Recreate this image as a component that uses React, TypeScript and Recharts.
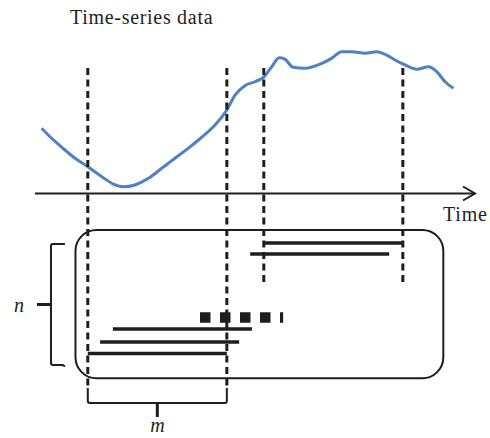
import {
  ComposedChart,
  Line,
  ReferenceArea,
  ReferenceLine,
  XAxis,
  YAxis,
} from "recharts";

// time-series curve (time units, value units)
const seriesTime = [
  1.5, 3.0, 6.1, 9.1, 12.0, 15.2, 17.8, 20.1, 22.7, 25.8, 28.8, 31.8, 34.8,
  37.9, 40.9, 43.6, 45.5, 47.7, 50.0, 52.1, 53.8, 55.5, 56.7, 58.7, 61.4,
  65.2, 67.4, 69.7, 72.0, 75.0, 77.7, 79.9, 81.8, 84.1, 86.8, 89.4, 91.3,
  93.2, 95.1,
];
const seriesValue = [
  43.5, 39, 30.8, 23.5, 17.9, 11.2, 6.3, 4.5, 5.7, 10.1, 16.8, 23.5, 30.1,
  37.5, 45.7, 55.7, 65.7, 71.9, 74.5, 77.9, 84.5, 90.5, 89.7, 84.1, 83.5,
  86.8, 90.1, 94.5, 94.5, 93.5, 94.5, 92.3, 89, 85.7, 82.8, 84.5, 81.2, 74.5,
  70.1,
];

// sliding windows of length m
const windowLength = 31.6;
const windowStarts = [12, 52];
const windowTop = 83.7;
const windowBottoms = [-129.7, -60.3];

// subsequence rows (start time, row level)
const rowStarts = [12, 14.8, 17.7, 48.9, 52];
const rowLevels = [-106.7, -99, -90.3, -40.3, -33];
const ellipsis = { from: 37.5, to: 56.4, level: -82.7 };

// matrix box and braces
const box = { x1: 9.2, x2: 92.8, y1: -24.3, y2: -123.2 };
const nBrace = { x1: 0.45, x2: 6.8, y1: -33.7, y2: -114.3 };
const mBrace = { y1: -129.7, y2: -149 };

const series = seriesTime.map((t, i) => ({ t, v: seriesValue[i] }));

const INK = "#1e1e1e";
const SERIF = "Liberation Serif, DejaVu Serif, Noto Serif, Times, serif";

function AxisArrow(props: any) {
  const { x1, y1, x2 } = props;
  return (
    <g>
      <line x1={x1} y1={y1} x2={x2} y2={y1} stroke={INK} strokeWidth={2} />
      <polyline
        points={`${x2 - 12},${y1 - 7} ${x2},${y1} ${x2 - 12},${y1 + 7}`}
        fill="none"
        stroke={INK}
        strokeWidth={2}
      />
      <text x={x2 - 32} y={y1 + 27} fontFamily={SERIF} fontSize={20} letterSpacing={0.8} fill={INK}>
        Time
      </text>
    </g>
  );
}

function BoxShape(props: any) {
  const { x, y, width, height } = props;
  return (
    <rect
      x={x}
      y={y}
      width={width}
      height={height}
      rx={21}
      fill="none"
      stroke={INK}
      strokeWidth={2}
    />
  );
}

function LeftBrace(props: any) {
  const { x, y, width, height } = props;
  const bx = x + 14;
  const mid = y + height / 2;
  return (
    <g fill="none" stroke={INK} strokeWidth={2}>
      <path d={`M${x + width},${y} H${bx + 2} Q${bx},${y} ${bx},${y + 2} V${y + height - 2} Q${bx},${y + height} ${bx + 2},${y + height} H${x + width - 2} L${x + width},${y + height + 1.5}`} />
      <path d={`M${x},${mid} H${bx}`} strokeWidth={3} />
      <text x={x - 23} y={mid + 7} fontFamily={SERIF} fontStyle="italic" fontSize={20} fill={INK} stroke="none">
        n
      </text>
    </g>
  );
}

function BottomBrace(props: any) {
  const { x, y, width, height } = props;
  const hy = y + 15;
  const cx = x + width / 2;
  return (
    <g fill="none" stroke={INK} strokeWidth={2}>
      <path d={`M${x},${y} V${hy - 2} Q${x},${hy} ${x + 2},${hy} H${x + width - 2} Q${x + width},${hy} ${x + width},${hy - 2} V${y}`} />
      <path d={`M${cx},${hy} V${y + height}`} strokeWidth={3} />
      <text x={cx - 7} y={y + height + 15} fontFamily={SERIF} fontStyle="italic" fontSize={20} fill={INK} stroke="none">
        m
      </text>
    </g>
  );
}

export default function App() {
  return (
    <div style={{ position: "absolute", left: 0, top: 0, width: 490, height: 438, background: "#fff" }}>
      <div
        style={{
          position: "absolute",
          left: 70,
          top: 7,
          fontFamily: SERIF,
          fontSize: 20,
          lineHeight: "20px",
          letterSpacing: 0.7,
          color: INK,
          whiteSpace: "nowrap",
        }}
      >
        Time-series data
      </div>
      <ComposedChart
        width={490}
        height={438}
        data={series}
        margin={{ top: 0, right: 15, bottom: 0, left: 35 }}
      >
        <XAxis dataKey="t" type="number" domain={[0, 100]} hide />
        <YAxis type="number" domain={[-163, 129]} hide />

        <ReferenceArea
          x1={box.x1}
          x2={box.x2}
          y1={box.y1}
          y2={box.y2}
          ifOverflow="visible"
          shape={BoxShape}
        />
        <ReferenceArea
          x1={nBrace.x1}
          x2={nBrace.x2}
          y1={nBrace.y1}
          y2={nBrace.y2}
          ifOverflow="visible"
          shape={LeftBrace}
        />
        <ReferenceArea
          x1={windowStarts[0]}
          x2={windowStarts[0] + windowLength}
          y1={mBrace.y1}
          y2={mBrace.y2}
          ifOverflow="visible"
          shape={BottomBrace}
        />

        <ReferenceLine
          segment={[
            { x: 0, y: 0 },
            { x: 100, y: 0 },
          ]}
          ifOverflow="visible"
          shape={AxisArrow}
        />

        <Line
          dataKey="v"
          type="monotone"
          stroke="#4f81c4"
          strokeWidth={3}
          dot={false}
          activeDot={false}
          isAnimationActive={false}
        />

        {windowStarts.map((start, i) =>
          [start, start + windowLength].map((t) => (
            <ReferenceLine
              key={`w${i}-${t}`}
              segment={[
                { x: t, y: windowTop },
                { x: t, y: windowBottoms[i] },
              ]}
              stroke={INK}
              strokeWidth={3}
              strokeDasharray="7 4.5"
              ifOverflow="visible"
            />
          ))
        )}

        {rowStarts.map((start, i) => (
          <ReferenceLine
            key={`r${i}`}
            segment={[
              { x: start, y: rowLevels[i] },
              { x: start + windowLength, y: rowLevels[i] },
            ]}
            stroke={INK}
            strokeWidth={3.5}
            ifOverflow="visible"
          />
        ))}

        <ReferenceLine
          segment={[
            { x: ellipsis.from, y: ellipsis.level },
            { x: ellipsis.to, y: ellipsis.level },
          ]}
          stroke={INK}
          strokeWidth={10.5}
          strokeDasharray="10.5 9.5"
          ifOverflow="visible"
        />
      </ComposedChart>
    </div>
  );
}
